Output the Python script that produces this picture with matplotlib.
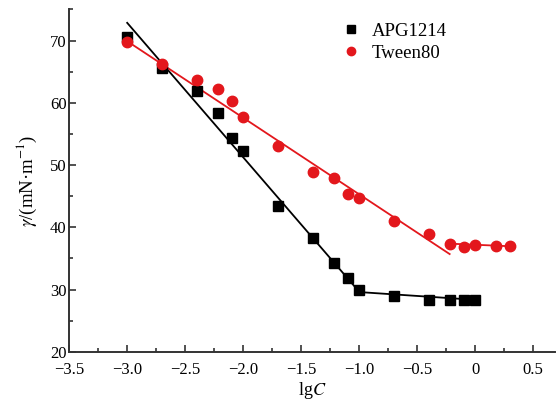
import numpy as np
import matplotlib
matplotlib.use("Agg")
import matplotlib.pyplot as plt

plt.rcParams["font.family"] = ["Liberation Serif", "DejaVu Serif"]
plt.rcParams["mathtext.fontset"] = "stix"

# ── données ─────────────────────────────────────────────────────────────────
lgc_apg = [-3.0, -2.7, -2.4, -2.22, -2.1, -2.0, -1.7, -1.4, -1.22, -1.1,
           -1.0, -0.7, -0.4, -0.22, -0.1, 0.0]
gamma_apg = [70.5, 65.6, 61.9, 58.3, 54.4, 52.2, 43.4, 38.3, 34.3, 31.8,
             29.9, 28.9, 28.4, 28.3, 28.4, 28.4]

lgc_tw = [-3.0, -2.7, -2.4, -2.22, -2.1, -2.0, -1.7, -1.4, -1.22, -1.1,
          -1.0, -0.7, -0.4, -0.22, -0.1, 0.0, 0.18, 0.3]
gamma_tw = [69.8, 66.3, 63.6, 62.3, 60.3, 57.8, 53.0, 48.9, 47.9, 45.3,
            44.7, 41.0, 39.0, 37.4, 36.9, 37.2, 37.0, 37.0]

# droites d'ajustement (pente, ordonnée, x début, x fin)
fit_apg_steep = (-21.6, 8.05, -3.0, -1.0)
fit_apg_flat = (-1.25, 28.35, -1.0, 0.0)
fit_tw_steep = (-12.3, 33.0, -3.0, -0.22)
fit_tw_flat = (-0.8, 37.2, -0.22, 0.3)

xticks = [-3.5, -3.0, -2.5, -2.0, -1.5, -1.0, -0.5, 0, 0.5]
xtick_labels = ["\u22123.5", "\u22123.0", "\u22122.5", "\u22122.0", "\u22121.5",
                "\u22121.0", "\u22120.5", "0", "0.5"]
yticks = [20, 30, 40, 50, 60, 70]

RED = "#e3171c"

fig = plt.figure(figsize=(5.58, 4.11), dpi=100)
ax = fig.add_axes([0.124, 0.144, 0.871, 0.833])


def draw_fit(fit, color):
    k, b, x0, x1 = fit
    xs = np.array([x0, x1])
    ax.plot(xs, k * xs + b, color=color, lw=1.3, zorder=2)


draw_fit(fit_apg_steep, "black")
draw_fit(fit_apg_flat, "black")
draw_fit(fit_tw_steep, RED)
draw_fit(fit_tw_flat, RED)

ax.plot(lgc_apg, gamma_apg, ls="none", marker="s", ms=6.5, color="black",
        label="APG1214", zorder=3)
ax.plot(lgc_tw, gamma_tw, ls="none", marker="o", ms=7.5, color=RED,
        label="Tween80", zorder=3)

ax.set_xlim(-3.5, 0.69)
ax.set_ylim(20, 75)
ax.set_xticks(xticks)
ax.set_xticklabels(xtick_labels)
ax.set_yticks(yticks)
ax.set_xticks(np.arange(-3.25, 0.6, 0.5), minor=True)
ax.set_yticks([25, 35, 45, 55, 65, 75], minor=True)

for side in ("top", "right"):
    ax.spines[side].set_visible(False)
for side in ("left", "bottom"):
    ax.spines[side].set_linewidth(1.4)
    ax.spines[side].set_color("#333333")

ax.tick_params(which="both", direction="in", labelsize=12, color="#333333",
               width=1.2)
ax.tick_params(which="major", length=5)
ax.tick_params(which="minor", length=3)
ax.tick_params(axis="x", which="major", pad=7)
ax.tick_params(axis="y", which="major", pad=2)

ax.set_xlabel("lg$\\mathit{C}$", fontsize=13, labelpad=2)
ax.set_ylabel("$\\mathit{\\gamma}$/(mN·m$^{-1}$)", fontsize=13.5, labelpad=8)

ax.legend(loc="upper left", bbox_to_anchor=(0.515, 1.0), frameon=False,
          fontsize=13.5, handletextpad=0.1, labelspacing=0.25,
          markerscale=0.8, borderaxespad=0.3)

fig.savefig("out.png", dpi=100)
